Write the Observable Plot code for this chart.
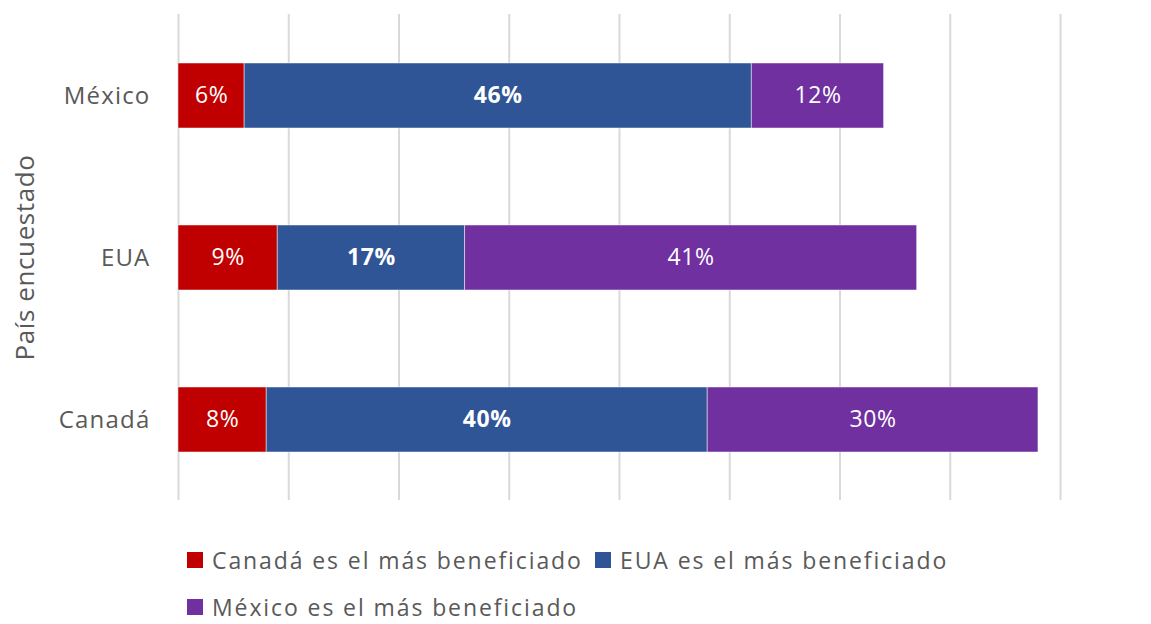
<!DOCTYPE html>
<html>
<head>
<meta charset="utf-8">
<script src="https://cdn.jsdelivr.net/npm/d3@7"></script>
<script src="https://cdn.jsdelivr.net/npm/@observablehq/plot@0.6"></script>
<style>
  html, body { margin: 0; padding: 0; background: #fff; }
  #wrap { position: relative; width: 1151px; height: 624px; font-family: "Open Sans", "Noto Sans", sans-serif; }
  .leg { position: absolute; display: flex; align-items: center; font-size: 23px; letter-spacing: 1.9px; color: #595959; white-space: nowrap; line-height: 24px; }
  .sw { width: 16px; height: 16px; margin-right: 9px; }
  svg text { letter-spacing: 0.6px; }
  svg g[aria-label="y-axis tick label"] text { letter-spacing: 1.2px; }
</style>
</head>
<body>
<div id="wrap"></div>
<script>
const countries = ["México", "EUA", "Canadá"];
const categories = ["Canadá es el más beneficiado", "EUA es el más beneficiado", "México es el más beneficiado"];
const colors = ["#C00000", "#2F5597", "#7030A0"];
const canadaBenef = [6, 9, 8];
const euaBenef = [46, 17, 40];
const mexicoBenef = [12, 41, 30];
const xTicks = [0, 10, 20, 30, 40, 50, 60, 70, 80];

const series = [canadaBenef, euaBenef, mexicoBenef];
const data = [];
countries.forEach((c, i) => {
  categories.forEach((cat, j) => data.push({country: c, category: cat, value: series[j][i]}));
});

const stackOpts = (extra) => Plot.stackX({x: "value", y: "country", z: "category", order: categories, ...extra});
const isBold = d => d.category === categories[1];

const chart = Plot.plot({
  width: 1151,
  height: 515,
  marginTop: 14,
  marginBottom: 15,
  marginLeft: 178,
  marginRight: 91,
  style: {fontFamily: "'Open Sans', 'Noto Sans', sans-serif", color: "#595959", background: "#fff"},
  x: {domain: [0, 80], axis: null},
  y: {domain: countries, paddingInner: 0.6, paddingOuter: 0.3, label: null},
  color: {domain: categories, range: colors},
  marks: [
    Plot.gridX(xTicks, {stroke: "#d9d9d9", strokeOpacity: 1, strokeWidth: 2}),
    Plot.barX(data, stackOpts({fill: "category", stroke: "#ffffff", strokeWidth: 0.8, strokeOpacity: 0.6})),
    Plot.text(data, stackOpts({text: d => isBold(d) ? "" : d.value + "%", fill: "white", fontSize: 23})),
    Plot.text(data, stackOpts({text: d => isBold(d) ? d.value + "%" : "", fill: "white", fontSize: 23, fontWeight: "bold"})),
    Plot.axisY({tickSize: 0, tickPadding: 28, fontSize: 24, label: null}),
    Plot.text(["País encuestado"], {frameAnchor: "left", textAnchor: "middle", dx: -153, rotate: -90, fontSize: 26, fill: "#595959"})
  ]
});

const wrap = document.getElementById("wrap");
wrap.appendChild(chart);

const legPos = [[187, 560], [595, 560], [187, 607]];
categories.forEach((cat, i) => {
  const d = document.createElement("div");
  d.className = "leg";
  d.style.left = legPos[i][0] + "px";
  d.style.top = (legPos[i][1] - 12) + "px";
  d.style.height = "24px";
  d.innerHTML = `<div class="sw" style="background:${colors[i]}"></div><span>${cat}</span>`;
  wrap.appendChild(d);
});
</script>
</body>
</html>
